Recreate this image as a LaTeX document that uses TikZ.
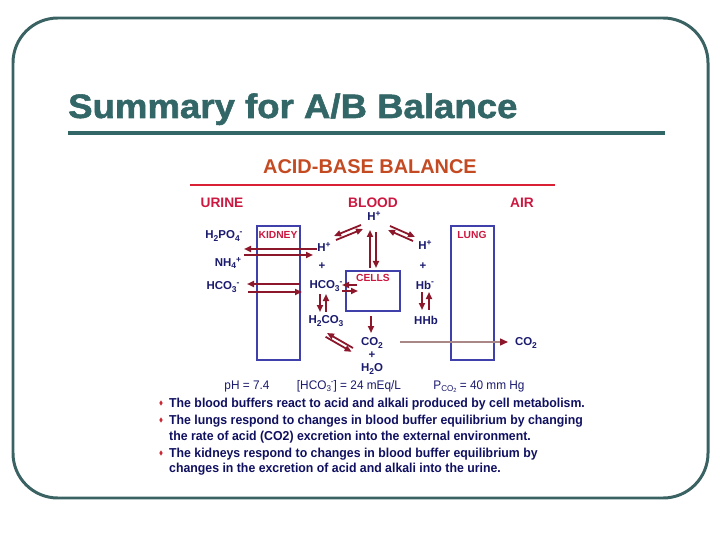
\documentclass[tikz,border=0pt]{standalone}
\usepackage{fontspec}
\setmainfont{Liberation Sans}
\newfontfamily\narrowfont[FakeStretch=0.95]{Liberation Sans}
\newfontfamily\eqfont[FakeStretch=0.95]{Liberation Sans}
\newfontfamily\titlefont[FakeStretch=1.08,FakeBold=1.6]{Liberation Sans}
\usetikzlibrary{arrows.meta,shapes.geometric}
\definecolor{framec}{RGB}{58,98,98}
\definecolor{titlec}{RGB}{51,102,102}
\definecolor{rust}{RGB}{196,74,34}
\definecolor{redline}{RGB}{218,32,52}
\definecolor{crim}{RGB}{204,24,64}
\definecolor{navy}{RGB}{26,26,110}
\definecolor{boxblue}{RGB}{64,64,170}
\definecolor{arrred}{RGB}{140,22,42}
\definecolor{mauve}{RGB}{170,135,135}
\definecolor{textnavy}{RGB}{16,16,96}
\definecolor{bulred}{RGB}{200,40,50}
\newcommand\chsub[1]{\raisebox{-0.35ex}{\fontsize{8.5}{9}\selectfont #1}}
\newcommand\chsup[1]{\raisebox{0.75ex}{\fontsize{8.5}{9}\selectfont #1}}
\begin{document}
\begin{tikzpicture}[x=1bp,y=-1bp,
  chem/.style={font=\bfseries\fontsize{11.5}{13}\selectfont, text=navy, inner sep=0.5},
  lab/.style={font=\bfseries\fontsize{13.8}{15}\selectfont, text=crim, inner sep=0},
  organ/.style={draw=boxblue, line width=1.3},
  organlab/.style={font=\bfseries\fontsize{10.3}{11}\selectfont, text=crim, inner sep=0},
  rx/.style={draw=arrred, line width=1.8, -{Triangle[length=7bp,width=6bp]}},
  eqtext/.style={font=\eqfont\fontsize{12.5}{14}\selectfont, text=navy, inner sep=0, anchor=base},
  btext/.style={font=\narrowfont\bfseries\fontsize{13}{15}\selectfont, text=textnavy, inner sep=0, anchor=base west},
  bul/.style={shape=diamond, fill=bulred, inner sep=0, minimum width=3.5, minimum height=5.5}]
\useasboundingbox (0,0) rectangle (720,540);
% frame
\draw[framec, line width=3, rounded corners=45] (13,18) rectangle (708,498);
% title
\node[anchor=base west, font=\titlefont\bfseries\fontsize{34}{38}\selectfont, text=titlec, inner sep=0] (title) at (68,118) {Summary for A/B Balance};
\coordinate (tl1) at (68,133); \coordinate (tl2) at (665,133);
\draw[titlec, line width=4] (tl1) -- (tl2);
% heading
\node[anchor=base, font=\bfseries\fontsize{20}{22}\selectfont, text=rust, inner sep=0] (head) at (370,174) {ACID-BASE BALANCE};
\coordinate (rl1) at (190,185); \coordinate (rl2) at (555,185);
\draw[redline, line width=2.5] (rl1) -- (rl2);
% compartment labels
\node[lab] (urine) at (222,203) {URINE};
\node[lab] (blood) at (373,203) {BLOOD};
\node[lab] (air) at (522,203) {AIR};
% boxes
\draw[organ] (257,226) rectangle (300,360);
\draw[organ] (451,226) rectangle (494,360);
\draw[organ] (346,271) rectangle (400,311);
\node[organlab] (kidney) at (278,235) {KIDNEY};
\node[organlab] (lung) at (472,235) {LUNG};
\node[organlab] (cells) at (373,278) {CELLS};
% urine side
\node[chem] (h2po4) at (224,236) {H\chsub{2}PO\chsub{4}\chsup{-}};
\node[chem] (nh4) at (228,263) {NH\chsub{4}\chsup{+}};
\node[chem] (hco3u) at (223,287) {HCO\chsub{3}\chsup{-}};
% blood side
\node[chem] (htop) at (374,216) {H\chsup{+}};
\node[chem] (hl) at (324,247) {H\chsup{+}};
\node[chem] (pl) at (322,266) {+};
\node[chem] (hco3) at (326,286) {HCO\chsub{3}\chsup{-}};
\node[chem] (h2co3) at (326,321) {H\chsub{2}CO\chsub{3}};
\node[chem] (co2) at (372,343) {CO\chsub{2}};
\node[chem] (pc) at (372,355) {+};
\node[chem] (h2o) at (372,369) {H\chsub{2}O};
\node[chem] (hr) at (425,245) {H\chsup{+}};
\node[chem] (pr) at (423,266) {+};
\node[chem] (hb) at (425,285) {Hb\chsup{-}};
\node[chem] (hhb) at (426,320) {HHb};
\node[chem] (co2air) at (526,343) {CO\chsub{2}};
% arrow end points
\coordinate (k1a) at (317,249); \coordinate (k1b) at (244,249);
\coordinate (k2a) at (244,255); \coordinate (k2b) at (313,255);
\coordinate (c1a) at (300,284); \coordinate (c1b) at (247,284);
\coordinate (c2a) at (248,292); \coordinate (c2b) at (302,292);
\coordinate (dl1a) at (336,240); \coordinate (dl1b) at (363,229);
\coordinate (dl2a) at (361,225); \coordinate (dl2b) at (334,236);
\coordinate (dr1a) at (413,241); \coordinate (dr1b) at (388,230);
\coordinate (dr2a) at (390,226); \coordinate (dr2b) at (415,237);
\coordinate (v1a) at (370,268); \coordinate (v1b) at (370,230);
\coordinate (v2a) at (376,232); \coordinate (v2b) at (376,268);
\coordinate (s1a) at (357,285); \coordinate (s1b) at (342,285);
\coordinate (s2a) at (342,291); \coordinate (s2b) at (358,291);
\coordinate (hv1a) at (320,294); \coordinate (hv1b) at (320,312);
\coordinate (hv2a) at (326,312); \coordinate (hv2b) at (326,294);
\coordinate (g1a) at (353,348); \coordinate (g1b) at (327,333);
\coordinate (g2a) at (325.6,336.8); \coordinate (g2b) at (351.6,351.8);
\coordinate (cc1) at (371,316); \coordinate (cc2) at (371,333);
\coordinate (hb1a) at (422,292); \coordinate (hb1b) at (422,310);
\coordinate (hb2a) at (429,310); \coordinate (hb2b) at (429,292);
\coordinate (ca1) at (400,342); \coordinate (ca2) at (508,342);
% arrows
\draw[rx] (k1a) -- (k1b);
\draw[rx] (k2a) -- (k2b);
\draw[rx] (c1a) -- (c1b);
\draw[rx] (c2a) -- (c2b);
\draw[rx] (dl1a) -- (dl1b);
\draw[rx] (dl2a) -- (dl2b);
\draw[rx] (dr1a) -- (dr1b);
\draw[rx] (dr2a) -- (dr2b);
\draw[rx] (v1a) -- (v1b);
\draw[rx] (v2a) -- (v2b);
\draw[rx] (s1a) -- (s1b);
\draw[rx] (s2a) -- (s2b);
\draw[rx] (hv1a) -- (hv1b);
\draw[rx] (hv2a) -- (hv2b);
\draw[rx] (g1a) -- (g1b);
\draw[rx] (g2a) -- (g2b);
\draw[rx] (cc1) -- (cc2);
\draw[rx] (hb1a) -- (hb1b);
\draw[rx] (hb2a) -- (hb2b);
\draw[mauve, line width=1.4, -{Triangle[length=8bp,width=7bp,color=arrred]}] (ca1) -- (ca2);
% values
\node[eqtext] (ph) at (247,389) {pH = 7.4};
\node[eqtext] (hco3v) at (349,389) {[HCO\chsub{3}\chsup{-}] = 24 mEq/L};
\node[eqtext] (pco2) at (479,389) {P\chsub{CO\raisebox{-0.2ex}{\fontsize{6}{6}\selectfont 2}} = 40 mm Hg};
% bullets
\node[bul] (b1) at (161,403) {};
\node[bul] (b2) at (161,420) {};
\node[bul] (b3) at (161,453) {};
\node[btext] (t1) at (169,407.5) {The blood buffers react to acid and alkali produced by cell metabolism.};
\node[btext] (t2) at (169,424.5) {The lungs respond to changes in blood buffer equilibrium by changing};
\node[btext] (t3) at (169,440.5) {the rate of acid (CO2) excretion into the external environment.};
\node[btext] (t4) at (169,457.5) {The kidneys respond to changes in blood buffer equilibrium by};
\node[btext] (t5) at (169,472.5) {changes in the excretion of acid and alkali into the urine.};
\end{tikzpicture}
\end{document}
